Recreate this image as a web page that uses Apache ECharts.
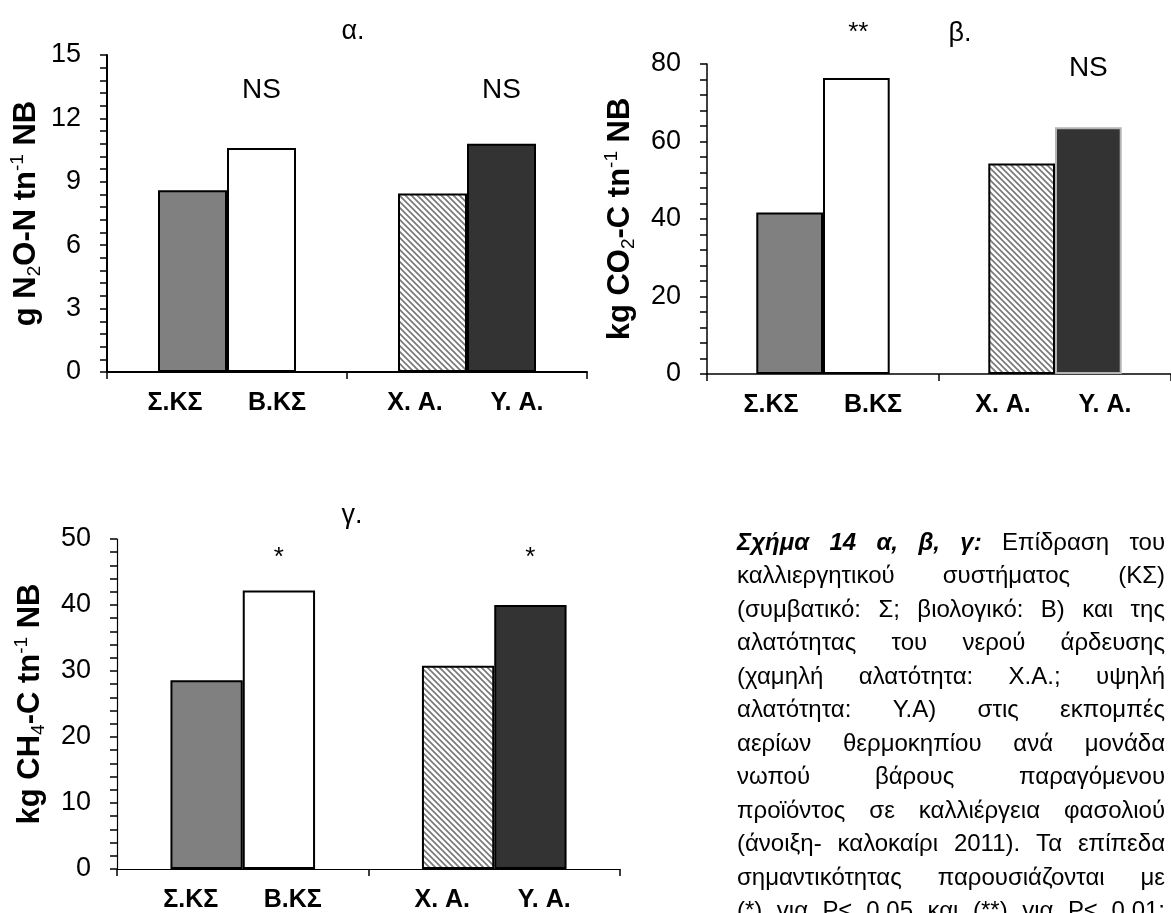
<!DOCTYPE html>
<html><head><meta charset="utf-8">
<script src="https://cdn.jsdelivr.net/npm/echarts@6/dist/echarts.min.js"></script>
<style>html,body{margin:0;padding:0;background:#fff}#c{width:1171px;height:913px}</style>
</head><body><div id="c"></div>
<script>
// ---------- data ----------
const categories = ['Σ.ΚΣ', 'Β.ΚΣ', 'Χ. Α.', 'Υ. Α.'];
const n2oValues = [8.6, 10.6, 8.45, 10.8];
const co2Values = [41.7, 76.4, 54.3, 63.7];
const ch4Values = [28.6, 42.2, 30.8, 40.0];
const n2oTicks = [0, 3, 6, 9, 12, 15];
const co2Ticks = [0, 20, 40, 60, 80];
const ch4Ticks = [0, 10, 20, 30, 40, 50];
const n2oSig = ['NS', 'NS'];
const n2oSigAt = [13.35, 13.35];
const co2Sig = ['**', 'NS'];
const co2SigAt = [80, 79];
const ch4Sig = ['*', '*'];
const ch4SigAt = [47.1, 47.1];
const panelTitles = ['α.', 'β.', 'γ.'];
const captionLines = [
  'Σχήμα 14 α, β, γ: Επίδραση του',
  'καλλιεργητικού συστήματος (ΚΣ)',
  '(συμβατικό: Σ; βιολογικό: Β) και της',
  'αλατότητας του νερού άρδευσης',
  '(χαμηλή αλατότητα: Χ.Α.; υψηλή',
  'αλατότητα: Υ.Α) στις εκπομπές',
  'αερίων θερμοκηπίου ανά μονάδα',
  'νωπού βάρους παραγόμενου',
  'προϊόντος σε καλλιέργεια φασολιού',
  '(άνοιξη- καλοκαίρι 2011). Τα επίπεδα',
  'σημαντικότητας παρουσιάζονται με',
  '(*) για Ρ≤ 0,05 και (**) για Ρ≤ 0,01;'
];
const captionBold = 'Σχήμα 14 α, β, γ:';

// ---------- helpers ----------
const FAM = '"Liberation Sans", Arial, Helvetica, sans-serif';
function hatch() {
  const c = document.createElement('canvas'); c.width = 6; c.height = 6;
  const g = c.getContext('2d');
  g.fillStyle = '#fff'; g.fillRect(0, 0, 6, 6);
  g.strokeStyle = '#7a7a7a'; g.lineWidth = 1.7;
  g.beginPath();
  g.moveTo(-1, -1); g.lineTo(7, 7);
  g.moveTo(-1, 5); g.lineTo(1, 7);
  g.moveTo(5, -1); g.lineTo(7, 1);
  g.stroke();
  return c;
}
const hatchFill = { image: hatch(), repeat: 'repeat' };

const grids = [
  { left: 107, right: 584, top: 55, bottom: 541 },
  { left: 707, right: -11, top: 64, bottom: 539 },
  { left: 117, right: 551, top: 539, bottom: 43 }
];
const panels = [
  { values: n2oValues, ticks: n2oTicks, name: 'g N{sub|2}O-N tn{sup|-1} NB', nameGap: 63, axisW: 2, sig: n2oSig, sigAt: n2oSigAt, lastBorder: '#000' },
  { values: co2Values, ticks: co2Ticks, name: 'kg CO{sub|2}-C tn{sup|-1} NB', nameGap: 69, axisW: 1.5, sig: co2Sig, sigAt: co2SigAt, lastBorder: '#b4b4b4' },
  { values: ch4Values, ticks: ch4Ticks, name: 'kg CH{sub|4}-C tn{sup|-1} NB', nameGap: 69, axisW: 1.2, sig: ch4Sig, sigAt: ch4SigAt, lastBorder: '#000' }
];

const xAxes = [], yAxes = [], series = [];
panels.forEach((p, i) => {
  const xData = [categories[0], categories[2]];
  xAxes.push({
    type: 'category', gridIndex: i, data: xData,
    axisLine: { lineStyle: { color: '#000', width: p.axisW } },
    axisTick: { show: true, length: 7, lineStyle: { color: '#000', width: 1.5 } },
    axisLabel: {
      interval: 0, margin: 19,
      formatter: (v, idx) => '{l|' + categories[idx * 2] + '}{r|' + categories[idx * 2 + 1] + '}',
      rich: {
        l: { width: 100, align: 'center', fontSize: 25, fontWeight: 'bold', fontFamily: FAM, color: '#000' },
        r: { width: 104, align: 'center', fontSize: 25, fontWeight: 'bold', fontFamily: FAM, color: '#000' }
      }
    },
    splitLine: { show: false }
  });
  const t = p.ticks;
  yAxes.push({
    type: 'value', gridIndex: i, min: t[0], max: t[t.length - 1], interval: t[1] - t[0],
    axisLine: { show: true, lineStyle: { color: '#000', width: p.axisW } },
    axisTick: { show: true, length: 7, lineStyle: { color: '#000', width: 1.5 } },
    minorTick: { show: true, splitNumber: 5, length: 7, lineStyle: { color: '#000', width: 1.5 } },
    splitLine: { show: false }, minorSplitLine: { show: false },
    axisLabel: { fontSize: 27, color: '#000', margin: 26, fontFamily: FAM },
    name: p.name, nameLocation: 'middle', nameRotate: 90, nameGap: p.nameGap,
    nameTextStyle: {
      fontSize: 31, fontWeight: 'bold', color: '#000', fontFamily: FAM, lineHeight: 36,
      rich: {
        sub: { fontSize: 19, fontWeight: 'normal', fontFamily: FAM, color: '#000', lineHeight: 19, verticalAlign: 'bottom' },
        sup: { fontSize: 19, fontWeight: 'normal', fontFamily: FAM, color: '#000', lineHeight: 19, verticalAlign: 'top' }
      }
    }
  });
  const common = {
    type: 'bar', xAxisIndex: i, yAxisIndex: i, barGap: '0%', barCategoryGap: '42.5%',
    silent: true, animation: false
  };
  series.push(Object.assign({}, common, {
    itemStyle: { borderColor: '#000', borderWidth: 2 },
    data: [
      { value: p.values[0], itemStyle: { color: '#808080' } },
      { value: p.values[2], itemStyle: { color: hatchFill } }
    ]
  }));
  series.push(Object.assign({}, common, {
    itemStyle: { borderColor: '#000', borderWidth: 2 },
    data: [
      { value: p.values[1], itemStyle: { color: '#ffffff' } },
      { value: p.values[3], itemStyle: { color: '#333333', borderColor: p.lastBorder } }
    ],
    markPoint: {
      symbol: 'circle', symbolSize: 1, itemStyle: { color: 'rgba(0,0,0,0)' },
      label: { show: true, position: 'inside', fontSize: 28, color: '#000', fontFamily: FAM },
      data: p.sig.map((s, k) => ({
        coord: [xData[k], p.sigAt[k]],
        label: { formatter: s, offset: (s === '**') ? [2, -31] : [0, 0], fontSize: s.indexOf('*') >= 0 ? 26 : 28 }
      }))
    }
  }));
});

// caption laid out as justified lines
function captionGraphics() {
  const ctx = document.createElement('canvas').getContext('2d');
  const size = 24, left = 737, right = 1165, top = 543, step = 33.5;
  const els = [];
  const nBold = captionBold.split(' ').length;
  captionLines.forEach((line, li) => {
    const words = line.split(' ');
    const isB = (k) => li === 0 && k < nBold;
    const widths = words.map((w, k) => {
      ctx.font = (isB(k) ? 'italic bold ' : '') + size + 'px ' + FAM;
      return ctx.measureText(w).width;
    });
    const total = widths.reduce((a, b) => a + b, 0);
    const gap = words.length > 1 ? (right - left - total) / (words.length - 1) : 0;
    let x = left;
    words.forEach((w, k) => {
      els.push({
        type: 'text', x: x, y: top + li * step, silent: true,
        style: {
          text: w, fontSize: size, fontFamily: FAM, fill: '#000',
          fontWeight: isB(k) ? 'bold' : 'normal', fontStyle: isB(k) ? 'italic' : 'normal',
          textVerticalAlign: 'middle'
        }
      });
      x += widths[k] + gap;
    });
  });
  return els;
}
const titlePos = [[353, 32], [960, 34], [352, 516]];
const titleEls = panelTitles.map((tx, i) => ({
  type: 'text', x: titlePos[i][0], y: titlePos[i][1], silent: true,
  style: { text: tx, fontSize: 27, fontFamily: FAM, fill: '#000', textAlign: 'center', textVerticalAlign: 'middle' }
}));

const chart = echarts.init(document.getElementById('c'), null, { renderer: 'canvas' });
chart.setOption({
  backgroundColor: '#fff',
  animation: false,
  textStyle: { fontFamily: FAM },
  grid: grids,
  xAxis: xAxes,
  yAxis: yAxes,
  series: series,
  graphic: titleEls.concat(captionGraphics())
});
</script></body></html>
